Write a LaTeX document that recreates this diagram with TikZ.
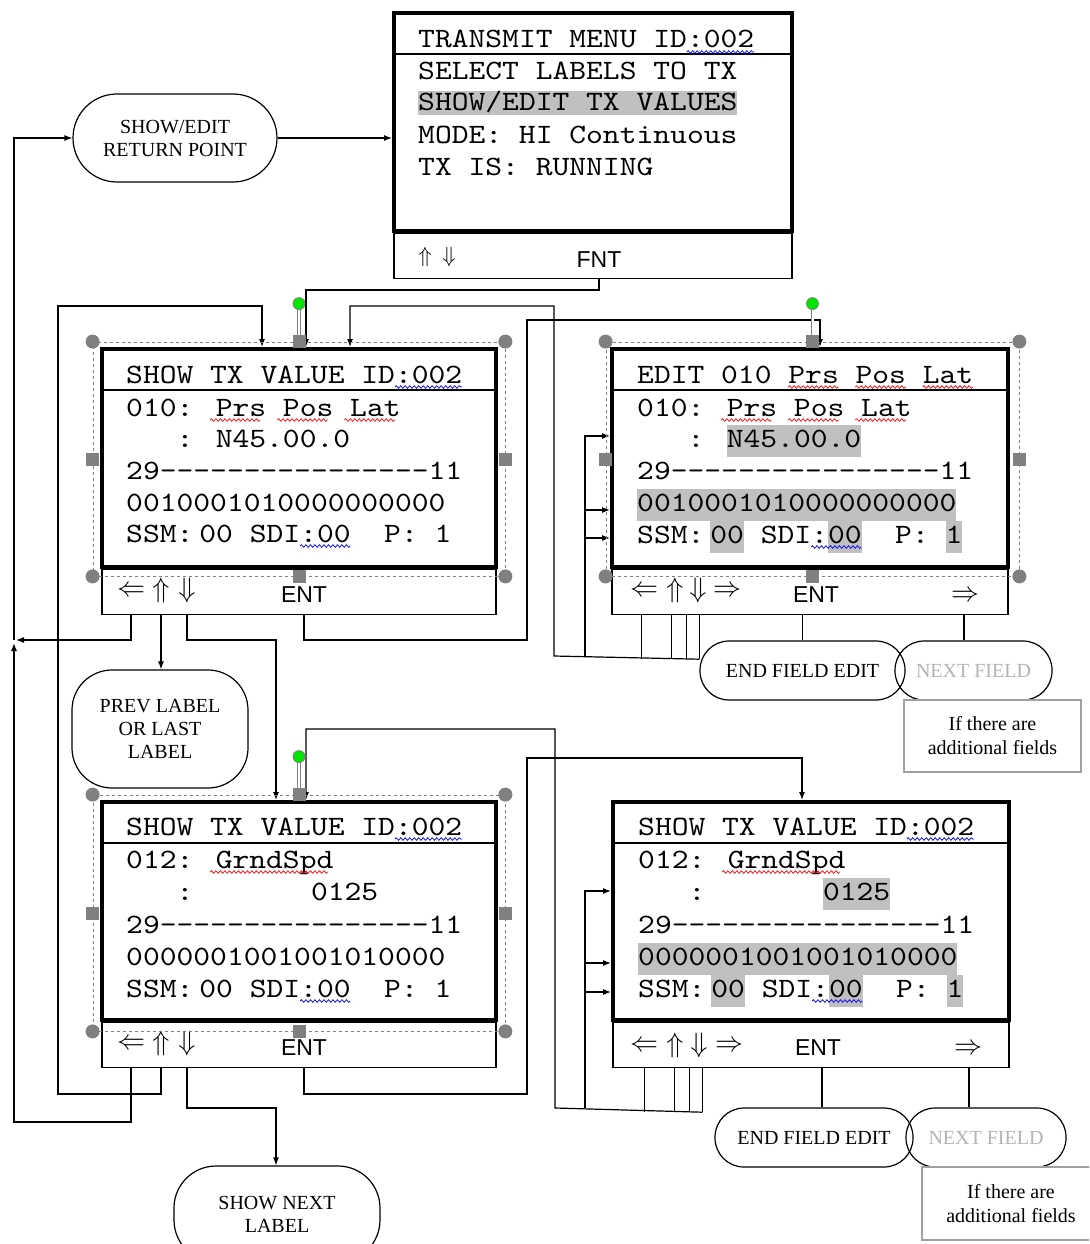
\documentclass[tikz,border=0pt]{standalone}
\usepackage{graphicx}
\usepackage{fontspec}
\setmainfont{Liberation Serif}
\newfontfamily\lcdfont{lmmono10-regular.otf}[FakeStretch=1.143, Ligatures=TeXOff]
\newfontfamily\keyfont{Liberation Sans}
\usetikzlibrary{arrows.meta, positioning, calc, decorations.pathmorphing}

\definecolor{hlgray}{RGB}{192,192,192}
\definecolor{handlegray}{RGB}{128,128,128}
\definecolor{nextgray}{RGB}{180,180,180}
\definecolor{boxgray}{RGB}{160,160,160}
\definecolor{rotgreen}{RGB}{0,230,0}

\newcommand{\hl}[1]{{\setlength{\fboxsep}{0pt}\colorbox{hlgray}{\strut#1}}}
\newcommand{\hlt}[1]{{\setlength{\fboxsep}{0pt}\colorbox{hlgray}{\rule[-4pt]{0pt}{24pt}#1}}}
\newcommand{\bigkey}[1]{\scalebox{2.8}{$#1$}}
\newcommand{\smallkey}[1]{\scalebox{2.2}{$#1$}}
% wavy mark under characters #2..#3 of line node #1
\newcommand{\wave}[4]{\draw[wavemark, #4] ($(#1.base west)+({#2*16.8},4)$) -- ++({(#3-#2)*16.8},0);}

\begin{document}
\begin{tikzpicture}[x=1pt, y=-1pt,
  wire/.style={line width=1.2pt},
  arr/.style={wire, -{Latex[length=8pt, width=6pt]}},
  screen/.style={draw, line width=4pt, inner sep=0pt, minimum width=396pt, minimum height=218pt},
  keybar/.style={draw, line width=1.2pt, inner sep=0pt, minimum width=396pt, minimum height=45pt, anchor=north},
  lcd/.style={anchor=base west, inner sep=0pt, font=\lcdfont\fontsize{28}{32}\selectfont},
  arrowkey/.style={inner sep=0pt},
  softkey/.style={inner sep=0pt, font=\keyfont\fontsize{23}{25}\selectfont},
  term/.style={draw, line width=1.2pt, inner sep=0pt, align=center, font=\fontsize{20}{23}\selectfont},
  note/.style={draw=boxgray, line width=1.2pt, inner sep=0pt, align=center, font=\fontsize{20}{24}\selectfont},
  selbox/.style={draw=handlegray, dashed, line width=0.8pt, inner sep=0pt},
  cornerhandle/.style={circle, fill=handlegray, inner sep=0pt, minimum size=14pt},
  sidehandle/.style={rectangle, fill=handlegray, inner sep=0pt, minimum size=13pt},
  rothandle/.style={circle, fill=rotgreen, draw=handlegray, line width=0.8pt, inner sep=0pt, minimum size=12pt},
  rotline/.style={draw=handlegray, line width=0.7pt, double=white, double distance=2pt},
  wavemark/.style={line width=0.7pt, decorate, decoration={snake, amplitude=1.3pt, segment length=4.5pt}}
]
\useasboundingbox (0,0) rectangle (1089,1244);
\clip (0,0) rectangle (1089,1244);
\fill[white] (0,0) rectangle (1089,1244);

% transmit menu
\node[screen, minimum width=398pt] (tm) at (593,122) {};
\draw[wire] ($(tm.north west)+(0,43)$) -- ($(tm.north east)+(0,43)$);
\node[keybar, minimum width=398pt] (tmKeys) at (tm.south) {};
\node[lcd] (tmTitle) at (418,48) {TRANSMIT MENU ID:002};
\node[lcd] (tmL1) at (418,80) {SELECT LABELS TO TX};
\node[lcd] (tmL2) at (418,111) {\hlt{SHOW/EDIT TX VALUES}};
\node[lcd] (tmL3) at (418,143) {MODE: HI Continuous};
\node[lcd] (tmL4) at (418,175) {TX IS: RUNNING};
\node[arrowkey] (tmUp) at (425,257) {\smallkey{\Uparrow}};
\node[arrowkey] (tmDown) at (449,257) {\smallkey{\Downarrow}};
\node[softkey] (tmFnt) at (599,260) {FNT};
\wave{tmTitle}{16}{20}{blue}

% show value 010
\node[screen, minimum width=394pt] (showA) at (299,458) {};
\draw[wire] ($(showA.north west)+(0,43)$) -- ($(showA.north east)+(0,43)$);
\node[keybar, minimum width=394pt] (showAkeys) at (showA.south) {};
\node[lcd] (aTitle) at (126,383) {SHOW TX VALUE ID:002};
\node[lcd] (aL1) at (126,416) {010: Prs Pos Lat};
\node[lcd] (aL2) at (126,447) {~~~: N45.00.0};
\node[lcd] (aL3) at (126,479) {29----------------11};
\node[lcd] (aL4) at (126,511) {0010001010000000000};
\node[lcd] (aL5) at (126,542) {SSM:\hspace{6pt}00 SDI:00~~P:~1};
\node[arrowkey] (aBack) at (131,591) {\bigkey{\Leftarrow}};
\node[arrowkey] (aUp) at (161,590) {\bigkey{\Uparrow}};
\node[arrowkey] (aDown) at (187,590) {\bigkey{\Downarrow}};
\node[softkey] (aEnt) at (304,595) {ENT};
\wave{aTitle}{16}{20}{blue}
\wave{aL1}{5}{8}{red}
\wave{aL1}{9}{12}{red}
\wave{aL1}{13}{16}{red}
\wave{aL5}{10.36}{13.36}{blue}

% edit 010
\node[screen] (editA) at (810,458) {};
\draw[wire] ($(editA.north west)+(0,43)$) -- ($(editA.north east)+(0,43)$);
\node[keybar] (editAkeys) at (editA.south) {};
\node[lcd] (eTitle) at (637,383) {EDIT 010 Prs Pos Lat};
\node[lcd] (eL1) at (637,416) {010: Prs Pos Lat};
\node[lcd] (eL2) at (637,447) {~~~: \hl{N45.00.0}};
\node[lcd] (eL3) at (637,479) {29----------------11};
\node[lcd] (eL4) at (637,511) {\hl{0010001010000000000}};
\node[lcd] (eL5) at (637,543) {SSM:\hspace{6pt}\hl{00} SDI:\hl{00}~~P:~\hl{1}};
\node[arrowkey] (eBack) at (644,591) {\bigkey{\Leftarrow}};
\node[arrowkey] (eUp) at (675,590) {\bigkey{\Uparrow}};
\node[arrowkey] (eDown) at (698,590) {\bigkey{\Downarrow}};
\node[arrowkey] (eFwd) at (727,591) {\bigkey{\Rightarrow}};
\node[softkey] (eEnt) at (816,595) {ENT};
\node[arrowkey] (eNext) at (965,596) {\bigkey{\Rightarrow}};
\wave{eTitle}{9}{12}{red}
\wave{eTitle}{13}{16}{red}
\wave{eTitle}{17}{20}{red}
\wave{eL1}{5}{8}{red}
\wave{eL1}{9}{12}{red}
\wave{eL1}{13}{16}{red}
\wave{eL5}{10.36}{13.36}{blue}

% show value 012
\node[screen, minimum width=394pt] (showB) at (299,911) {};
\draw[wire] ($(showB.north west)+(0,43)$) -- ($(showB.north east)+(0,43)$);
\node[keybar, minimum width=394pt] (showBkeys) at (showB.south) {};
\node[lcd] (bTitle) at (126,835) {SHOW TX VALUE ID:002};
\node[lcd] (bL1) at (126,868) {012: GrndSpd};
\node[lcd] (bL2) at (126,900) {~~~:~~~~~~~0125};
\node[lcd] (bL3) at (126,933) {29----------------11};
\node[lcd] (bL4) at (126,965) {0000001001001010000};
\node[lcd] (bL5) at (126,997) {SSM:\hspace{6pt}00 SDI:00~~P:~1};
\node[arrowkey] (bBack) at (131,1044) {\bigkey{\Leftarrow}};
\node[arrowkey] (bUp) at (161,1043) {\bigkey{\Uparrow}};
\node[arrowkey] (bDown) at (187,1043) {\bigkey{\Downarrow}};
\node[softkey] (bEnt) at (304,1048) {ENT};
\wave{bTitle}{16}{20}{blue}
\wave{bL1}{5}{12}{red}
\wave{bL5}{10.36}{13.36}{blue}

% edit 012
\node[screen] (editB) at (811,911) {};
\draw[wire] ($(editB.north west)+(0,43)$) -- ($(editB.north east)+(0,43)$);
\node[keybar] (editBkeys) at (editB.south) {};
\node[lcd] (fTitle) at (638,835) {SHOW TX VALUE ID:002};
\node[lcd] (fL1) at (638,868) {012: GrndSpd};
\node[lcd] (fL2) at (638,900) {~~~:~~~~~~~\hl{0125}};
\node[lcd] (fL3) at (638,933) {29----------------11};
\node[lcd] (fL4) at (638,965) {\hl{0000001001001010000}};
\node[lcd] (fL5) at (638,997) {SSM:\hspace{6pt}\hl{00} SDI:\hl{00}~~P:~\hl{1}};
\node[arrowkey] (fBack) at (644,1046) {\bigkey{\Leftarrow}};
\node[arrowkey] (fUp) at (675,1045) {\bigkey{\Uparrow}};
\node[arrowkey] (fDown) at (699,1045) {\bigkey{\Downarrow}};
\node[arrowkey] (fFwd) at (729,1046) {\bigkey{\Rightarrow}};
\node[softkey] (fEnt) at (818,1048) {ENT};
\node[arrowkey] (fNext) at (968,1049) {\bigkey{\Rightarrow}};
\wave{fTitle}{16}{20}{blue}
\wave{fL1}{5}{12}{red}
\wave{fL5}{10.36}{13.36}{blue}

% terminals
\node[term, minimum width=204pt, minimum height=88pt, rounded corners=44pt] (ret) at (175,138) {SHOW/EDIT\\RETURN POINT};
\node[term, minimum width=176pt, minimum height=118pt, rounded corners=40pt] (prev) at (160,729) {PREV LABEL\\OR LAST\\LABEL};
\node[term, minimum width=206pt, minimum height=96pt, rounded corners=42pt] (shownext) at (277,1214) {SHOW NEXT\\LABEL};
\node[term, minimum width=205pt, minimum height=59pt, rounded corners=29pt] (endA) at (802.5,670.5) {END FIELD EDIT};
\node[term, minimum width=157pt, minimum height=59pt, rounded corners=29pt, text=nextgray] (nextA) at (973.5,670.5) {NEXT FIELD};
\node[note, minimum width=177pt, minimum height=72pt] (ifA) at (992.5,736) {If there are\\additional fields};
\node[term, minimum width=198pt, minimum height=59pt, rounded corners=29pt] (endB) at (814,1137.5) {END FIELD EDIT};
\node[term, minimum width=160pt, minimum height=59pt, rounded corners=29pt, text=nextgray] (nextB) at (986,1137.5) {NEXT FIELD};
\node[note, minimum width=178pt, minimum height=73pt] (ifB) at (1011,1203.5) {If there are\\additional fields};

% connectors
\draw[arr] (ret.east) -- (ret.east -| tm.west);
\draw[arr] (tmFnt |- tmKeys.south) |- (306,290) -- (showA.north -| 306,0);
\draw[arr] (aBack |- showAkeys.south) |- (16,640);
\draw[arr] (bBack |- showBkeys.south) |- (14,1122) -- (14,643);
\draw[arr] (14,640) |- (ret.west);
\draw[arr] (aUp |- showAkeys.south) -- (aUp |- prev.north);
\draw[arr] (aDown |- showAkeys.south) |- (276,640) -- (showB.north -| 276,0);
\draw[arr] (aEnt |- showAkeys.south) |- (527,640) |- (820,320) -- (editA.north -| 820,0);
\draw[arr] (bUp |- showBkeys.south) |- (58,1094) |- (262,306) -- (showA.north -| 262,0);
\draw[arr] (bDown |- showBkeys.south) |- (276,1108) -- (shownext.north -| 276,0);
\draw[arr] (bEnt |- showBkeys.south) |- (527,1094) |- (802,758) -- (editB.north -| 802,0);

\foreach \dx in {30,60,75,88}
  \draw[wire] ($(editAkeys.south west)+(\dx,0)$) -- ++(0,44);
\draw[arr] ($(editAkeys.south west)+(88,44)$) -- (554,656) |- (350,306) -- (showA.north -| 350,0);
\draw[arr] (585,656) |- (editA.west |- 585,436);
\draw[arr] (585,510) -- (editA.west |- 585,510);
\draw[arr] (585,538) -- (editA.west |- 585,538);
\draw[wire] (endA.north |- editAkeys.south) -- (endA.north);
\draw[wire] (editAkeys.south -| 964,0) -- (nextA.north -| 964,0);

\foreach \dx in {32,62,77,90}
  \draw[wire] ($(editBkeys.south west)+(\dx,0)$) -- ++(0,44);
\draw[arr] ($(editBkeys.south west)+(90,44)$) -- (555,1108) |- (306,729) -- (showB.north -| 306,0);
\draw[arr] (585,1108) |- (editB.west |- 585,891);
\draw[arr] (585,963) -- (editB.west |- 585,963);
\draw[arr] (585,992) -- (editB.west |- 585,992);
\draw[wire] (editBkeys.south -| 822,0) -- (endB.north -| 822,0);
\draw[wire] (editBkeys.south -| 969,0) -- (nextB.north -| 969,0);

% selection handles
\node[selbox, minimum width=412pt, minimum height=234pt] (selA) at (299,459) {};
\node[selbox, minimum width=413pt, minimum height=234pt] (selE) at (812.5,459) {};
\node[selbox, minimum width=412pt, minimum height=236pt] (selB) at (299,913) {};
\foreach \s in {selA, selE, selB} {
  \draw[rotline] (\s.north) -- ++(0,-38);
  \foreach \c/\n in {north west/nw, north east/ne, south west/sw, south east/se}
    \node[cornerhandle] (\s\n) at (\s.\c) {};
  \foreach \c/\n in {north/n, south/s, west/w, east/e}
    \node[sidehandle] (\s\n) at (\s.\c) {};
  \node[rothandle] (\s rot) at ($(\s.north)+(0,-38)$) {};
}
\end{tikzpicture}
\end{document}
